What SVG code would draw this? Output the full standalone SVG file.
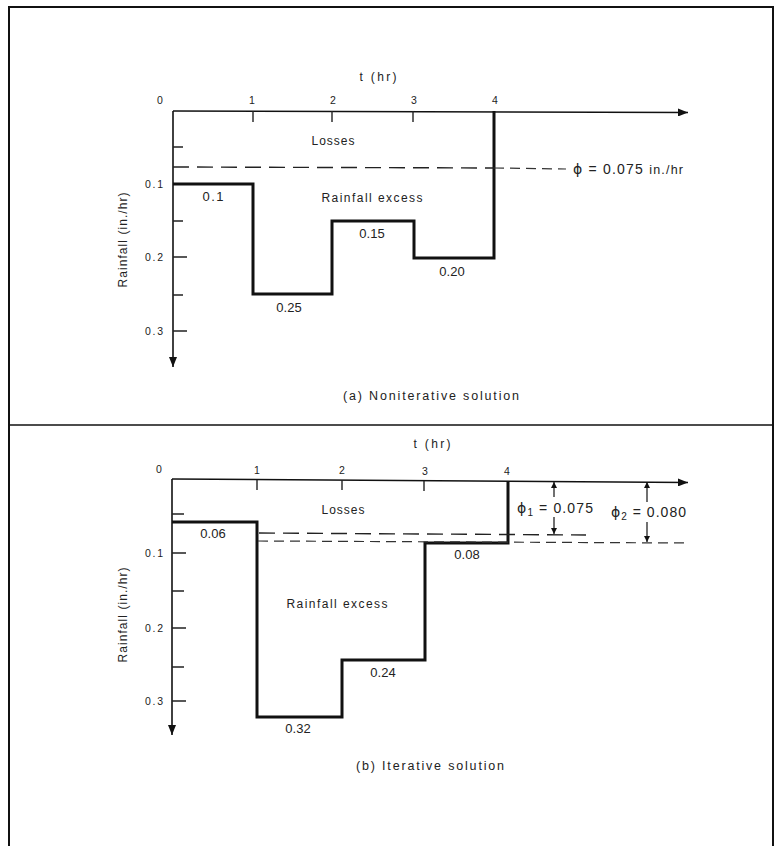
<svg xmlns="http://www.w3.org/2000/svg" width="775" height="846" viewBox="0 0 775 846">
<defs>
<marker id="ah" viewBox="0 0 10 8" refX="10" refY="4" markerWidth="10" markerHeight="8" markerUnits="userSpaceOnUse" orient="auto">
<path d="M0,0 L10,4 L0,8 Z" fill="#111"/>
</marker>
<marker id="sa" viewBox="0 0 6 6" refX="6" refY="3" markerWidth="6" markerHeight="6" markerUnits="userSpaceOnUse" orient="auto">
<path d="M0,0 L6,3 L0,6 Z" fill="#111"/>
</marker>
<style>
text{font-family:"Liberation Sans",Arial,sans-serif;fill:#222}
.phi{font-family:"DejaVu Sans","Liberation Sans",sans-serif;fill:#222}
.ax{stroke:#111;stroke-width:1.6;fill:none}
.tk{stroke:#222;stroke-width:1.4;fill:none}
.hy{stroke:#111;stroke-width:3;fill:none;stroke-linejoin:miter}
.da{stroke:#222;stroke-width:1.4;fill:none;stroke-dasharray:16 8}
.db{stroke:#333;stroke-width:1.2;fill:none;stroke-dasharray:10 6}
.dim{stroke:#111;stroke-width:1.2;fill:none}
.n{font-size:10.5px}
.th{font-size:12px}
.v{font-size:13px}
.lb{font-size:12px}
.ph{font-size:14px}
.cap{font-size:12.5px}
</style>
</defs>
<rect width="775" height="846" fill="#fff"/>
<g id="frame">
<path d="M9,846 V7 H773 V846" fill="none" stroke="#111" stroke-width="2"/>
<line x1="9" y1="425" x2="773" y2="425" stroke="#111" stroke-width="1.4"/>
</g>

<g id="panel-a">
<g id="axes-a">
<line class="ax" x1="173" y1="111" x2="688" y2="112.5" marker-end="url(#ah)"/>
<line class="ax" x1="173" y1="111" x2="173" y2="367" marker-end="url(#ah)"/>
<path class="tk" d="M253,111V122 M332,111V122 M413,111V122 M173,147H183 M173,184H187 M173,221H183 M173,257H187 M173,295H183 M173,331H187"/>
<text class="th" x="378" y="81" text-anchor="middle" textLength="37" lengthAdjust="spacing">t (hr)</text>
<text class="n" x="160" y="104" text-anchor="middle">0</text>
<text class="n" x="252" y="104" text-anchor="middle">1</text>
<text class="n" x="333" y="104" text-anchor="middle">2</text>
<text class="n" x="414" y="104" text-anchor="middle">3</text>
<text class="n" x="495" y="104" text-anchor="middle">4</text>
<text class="n" x="145" y="188" textLength="18" lengthAdjust="spacing">0.1</text>
<text class="n" x="145" y="261" textLength="18" lengthAdjust="spacing">0.2</text>
<text class="n" x="145" y="335" textLength="18" lengthAdjust="spacing">0.3</text>
<text class="lb" transform="translate(127,240) rotate(-90)" text-anchor="middle" textLength="95" lengthAdjust="spacing">Rainfall (in./hr)</text>
</g>
<g id="hyetograph-a">
<path class="hy" d="M173,184 H253 V294 H332 V221 H414 V258 H494 V111"/>
</g>
<g id="phi-a">
<line class="da" x1="173" y1="167" x2="494" y2="168"/>
<line class="db" x1="494" y1="168" x2="566" y2="169"/>
<text class="ph" x="573" y="174" textLength="110" lengthAdjust="spacing"><tspan class="phi">ϕ</tspan> = 0.075 <tspan font-size="12.5">in./hr</tspan></text>
</g>
<g id="labels-a">
<text class="lb" x="333" y="145" text-anchor="middle" textLength="43" lengthAdjust="spacing">Losses</text>
<text class="lb" x="372" y="202" text-anchor="middle" textLength="101" lengthAdjust="spacing">Rainfall excess</text>
<text class="v" x="213" y="201" text-anchor="middle" textLength="21" lengthAdjust="spacing">0.1</text>
<text class="v" x="289" y="312" text-anchor="middle">0.25</text>
<text class="v" x="372" y="238" text-anchor="middle">0.15</text>
<text class="v" x="452" y="276" text-anchor="middle">0.20</text>
<text class="cap" x="431" y="400" text-anchor="middle" textLength="176" lengthAdjust="spacing">(a)  Noniterative solution</text>
</g>
</g>

<g id="panel-b">
<g id="axes-b">
<line class="ax" x1="172" y1="479" x2="688" y2="482.5" marker-end="url(#ah)"/>
<line class="ax" x1="172" y1="479" x2="172" y2="735" marker-end="url(#ah)"/>
<path class="tk" d="M257,480V490 M342,480V490 M424,481V491 M172,514H184 M172,553H186 M172,591H184 M172,628H186 M172,667H184 M172,701H186"/>
<text class="th" x="432" y="448" text-anchor="middle" textLength="37" lengthAdjust="spacing">t (hr)</text>
<text class="n" x="159" y="473" text-anchor="middle">0</text>
<text class="n" x="257" y="474" text-anchor="middle">1</text>
<text class="n" x="342" y="474" text-anchor="middle">2</text>
<text class="n" x="425" y="475" text-anchor="middle">3</text>
<text class="n" x="507" y="475" text-anchor="middle">4</text>
<text class="n" x="145" y="557" textLength="18" lengthAdjust="spacing">0.1</text>
<text class="n" x="145" y="632" textLength="18" lengthAdjust="spacing">0.2</text>
<text class="n" x="145" y="705" textLength="18" lengthAdjust="spacing">0.3</text>
<text class="lb" transform="translate(127,615) rotate(-90)" text-anchor="middle" textLength="95" lengthAdjust="spacing">Rainfall (in./hr)</text>
</g>
<g id="hyetograph-b">
<path class="hy" d="M172,522 H257 V717 H342 V660 H425 V543 H508 V481"/>
</g>
<g id="phi-b">
<line class="da" x1="259" y1="533" x2="586" y2="535"/>
<line class="db" x1="258" y1="541" x2="690" y2="543"/>
<line class="dim" x1="554" y1="497" x2="554" y2="482" marker-end="url(#sa)"/>
<line class="dim" x1="554" y1="517" x2="554" y2="534" marker-end="url(#sa)"/>
<line class="dim" x1="647" y1="502" x2="647" y2="482" marker-end="url(#sa)"/>
<line class="dim" x1="647" y1="522" x2="647" y2="542" marker-end="url(#sa)"/>
<text class="ph" x="517" y="513" textLength="76" lengthAdjust="spacing"><tspan class="phi">ϕ</tspan><tspan dy="3" font-size="10">1</tspan><tspan dy="-3"> = 0.075</tspan></text>
<text class="ph" x="611" y="517" textLength="75" lengthAdjust="spacing"><tspan class="phi">ϕ</tspan><tspan dy="3" font-size="10">2</tspan><tspan dy="-3"> = 0.080</tspan></text>
</g>
<g id="labels-b">
<text class="lb" x="343" y="514" text-anchor="middle" textLength="43" lengthAdjust="spacing">Losses</text>
<text class="lb" x="337" y="608" text-anchor="middle" textLength="101" lengthAdjust="spacing">Rainfall excess</text>
<text class="v" x="213" y="538" text-anchor="middle">0.06</text>
<text class="v" x="467" y="559" text-anchor="middle">0.08</text>
<text class="v" x="383" y="677" text-anchor="middle">0.24</text>
<text class="v" x="298" y="733" text-anchor="middle">0.32</text>
<text class="cap" x="430" y="770" text-anchor="middle" textLength="148" lengthAdjust="spacing">(b)  Iterative solution</text>
</g>
</g>
</svg>
